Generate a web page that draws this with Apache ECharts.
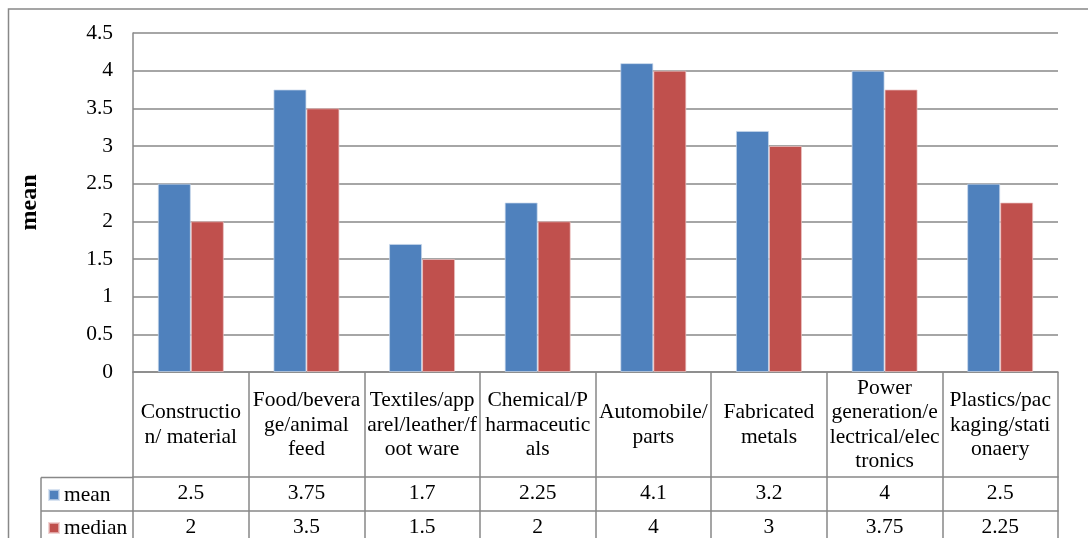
<!DOCTYPE html>
<html>
<head>
<meta charset="utf-8">
<script src="https://cdn.jsdelivr.net/npm/echarts@6/dist/echarts.min.js"></script>
<style>
html,body{margin:0;padding:0;background:#fff;}
#main{width:1088px;height:538px;}
</style>
</head>
<body>
<div id="main"></div>
<script>
// Data
const categories = [
  "Constructio\nn/ material",
  "Food/bevera\nge/animal\nfeed",
  "Textiles/app\narel/leather/f\noot ware",
  "Chemical/P\nharmaceutic\nals",
  "Automobile/\nparts",
  "Fabricated\nmetals",
  "Power\ngeneration/e\nlectrical/elec\ntronics",
  "Plastics/pac\nkaging/stati\nonaery"
];
const meanValues = [2.5, 3.75, 1.7, 2.25, 4.1, 3.2, 4, 2.5];
const medianValues = [2, 3.5, 1.5, 2, 4, 3, 3.75, 2.25];
const seriesNames = ["mean", "median"];
const yAxisTitle = "mean";

const FONT = "Liberation Serif";
const FS = 21.5;
const GRAY = "#888888";
const BLUE = "#4F81BD";
const RED = "#C0504D";

const chart = echarts.init(document.getElementById('main'), null, {renderer: 'canvas'});

const gridLeft = 133, gridRight = 30, gridTop = 33, gridBottom = 166;

function valueAxis(offset, values) {
  return {
    type: 'category',
    data: categories,
    position: 'bottom',
    offset: offset,
    axisLine: {show: true, lineStyle: {color: GRAY, width: 1.5}},
    axisTick: {show: false},
    axisLabel: {
      interval: 0,
      margin: 16.5,
      verticalAlign: 'middle',
      fontFamily: FONT,
      fontSize: FS,
      color: '#000',
      formatter: function (v, i) { return String(values[i]); }
    },
    splitLine: {show: false}
  };
}

function legendFor(name, top) {
  return {
    orient: 'vertical',
    left: 48,
    top: top,
    padding: 0,
    itemWidth: 10,
    itemHeight: 10,
    itemGap: 0,
    icon: 'rect',
    selectedMode: false,
    data: [name],
    textStyle: {fontFamily: FONT, fontSize: FS, color: '#000'}
  };
}

const option = {
  animation: false,
  backgroundColor: '#fff',
  textStyle: {fontFamily: FONT},
  grid: {left: gridLeft, right: gridRight, top: gridTop, bottom: gridBottom, containLabel: false},
  legend: [legendFor(seriesNames[0], 484), legendFor(seriesNames[1], 517)],
  xAxis: [
    {
      type: 'category',
      data: categories,
      position: 'bottom',
      axisLine: {show: true, lineStyle: {color: GRAY, width: 1.5}},
      axisTick: {show: true, length: 166, lineStyle: {color: GRAY, width: 1.5}},
      axisLabel: {
        interval: 0,
        margin: 53,
        verticalAlign: 'middle',
        align: 'center',
        fontFamily: FONT,
        fontSize: FS,
        lineHeight: 24.5,
        color: '#000'
      },
      splitLine: {show: false}
    },
    valueAxis(105, meanValues),
    valueAxis(138.5, medianValues)
  ],
  yAxis: {
    type: 'value',
    min: 0,
    max: 4.5,
    interval: 0.5,
    name: yAxisTitle,
    nameLocation: 'middle',
    nameGap: 91,
    nameRotate: 90,
    nameTextStyle: {fontFamily: FONT, fontSize: 24, fontWeight: 'bold', color: '#000'},
    axisLine: {show: true, lineStyle: {color: GRAY, width: 1.5}},
    axisTick: {show: false},
    axisLabel: {margin: 20, fontFamily: FONT, fontSize: FS, color: '#000'},
    splitLine: {show: true, lineStyle: {color: GRAY, width: 1.5}}
  },
  series: [
    {
      name: seriesNames[0],
      type: 'bar',
      data: meanValues,
      barWidth: 33,
      barGap: '0%',
      itemStyle: {color: BLUE, borderColor: 'rgba(200,215,235,0.7)', borderWidth: 1}
    },
    {
      name: seriesNames[1],
      type: 'bar',
      data: medianValues,
      barWidth: 33,
      barGap: '0%',
      itemStyle: {color: RED, borderColor: 'rgba(235,195,195,0.7)', borderWidth: 1}
    }
  ],
  graphic: [
    {type: 'rect', shape: {x: 8.5, y: 9, width: 1200, height: 700}, style: {fill: null, stroke: GRAY, lineWidth: 1.5}, silent: true, z: 0},
    {type: 'line', shape: {x1: 41, y1: 477.5, x2: 133, y2: 477.5}, style: {stroke: GRAY, lineWidth: 1.5}, silent: true},
    {type: 'line', shape: {x1: 41, y1: 511, x2: 133, y2: 511}, style: {stroke: GRAY, lineWidth: 1.5}, silent: true},
    {type: 'line', shape: {x1: 41, y1: 477.5, x2: 41, y2: 540}, style: {stroke: GRAY, lineWidth: 1.5}, silent: true}
  ]
};

chart.setOption(option);
</script>
</body>
</html>
